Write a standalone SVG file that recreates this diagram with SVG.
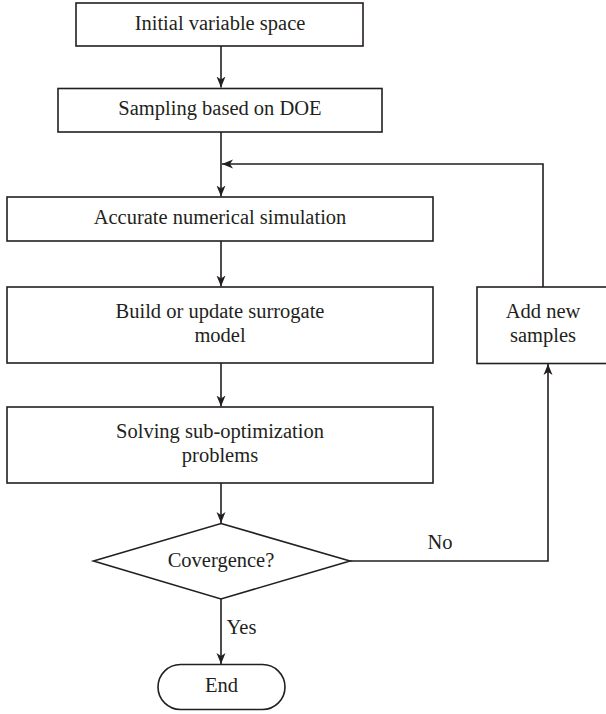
<svg xmlns="http://www.w3.org/2000/svg" width="606" height="714" viewBox="0 0 606 714">
  <style>
    .box { fill: #ffffff; stroke: #231f20; stroke-width: 1.6; }
    .lbl { font-family: "Liberation Serif", "Times New Roman", serif; font-size: 20.5px; fill: #231f20; text-anchor: middle; }
    .edge { fill: none; stroke: #231f20; stroke-width: 1.6; }
  </style>
  <defs>
    <marker id="arr" markerUnits="userSpaceOnUse" markerWidth="12" markerHeight="10" viewBox="0 0 12 10" refX="11" refY="5" orient="auto">
      <path d="M0,0.5 L11,5 L0,9.5 L3,5 z" fill="#231f20"/>
    </marker>
  </defs>
  <rect width="606" height="714" fill="#ffffff"/>

  <g id="connectors">
    <line class="edge" x1="221" y1="46" x2="221" y2="87.5" marker-end="url(#arr)"/>
    <line class="edge" x1="221" y1="132" x2="221" y2="196.5" marker-end="url(#arr)"/>
    <line class="edge" x1="221" y1="241" x2="221" y2="286.5" marker-end="url(#arr)"/>
    <line class="edge" x1="221" y1="363" x2="221" y2="406.5" marker-end="url(#arr)"/>
    <line class="edge" x1="221" y1="483" x2="221" y2="523" marker-end="url(#arr)"/>
    <line class="edge" x1="221" y1="599" x2="221" y2="664" marker-end="url(#arr)"/>
    <polyline class="edge" points="543,287 543,164 222,164" marker-end="url(#arr)"/>
    <polyline class="edge" points="350,561 548,561 548,364" marker-end="url(#arr)"/>
    <text class="lbl" x="440" y="549">No</text>
    <text class="lbl" x="241.5" y="634">Yes</text>
  </g>

  <g id="node-initial">
    <rect class="box" x="76" y="3" width="287" height="43"/>
    <text class="lbl" x="220" y="29.5">Initial variable space</text>
  </g>
  <g id="node-sampling">
    <rect class="box" x="58" y="88.5" width="324" height="43.5"/>
    <text class="lbl" x="220" y="115">Sampling based on DOE</text>
  </g>
  <g id="node-simulation">
    <rect class="box" x="7" y="197" width="426" height="44"/>
    <text class="lbl" x="220" y="223.5">Accurate numerical simulation</text>
  </g>
  <g id="node-surrogate">
    <rect class="box" x="7" y="287" width="426" height="76"/>
    <text class="lbl" x="220" y="318">Build or update surrogate</text>
    <text class="lbl" x="220" y="342">model</text>
  </g>
  <g id="node-solving">
    <rect class="box" x="7" y="407" width="426" height="76"/>
    <text class="lbl" x="220" y="438">Solving sub-optimization</text>
    <text class="lbl" x="220" y="462">problems</text>
  </g>
  <g id="node-add">
    <rect class="box" x="477" y="287" width="140" height="76.5"/>
    <text class="lbl" x="543" y="318">Add new</text>
    <text class="lbl" x="543" y="342">samples</text>
  </g>
  <g id="node-convergence">
    <polygon class="box" points="221,523.5 350,561 221,599 93.5,561"/>
    <text class="lbl" x="221" y="567">Covergence?</text>
  </g>
  <g id="node-end">
    <rect class="box" x="158" y="664.5" width="127" height="45" rx="22.5" ry="22.5"/>
    <text class="lbl" x="221.5" y="692">End</text>
  </g>
</svg>
